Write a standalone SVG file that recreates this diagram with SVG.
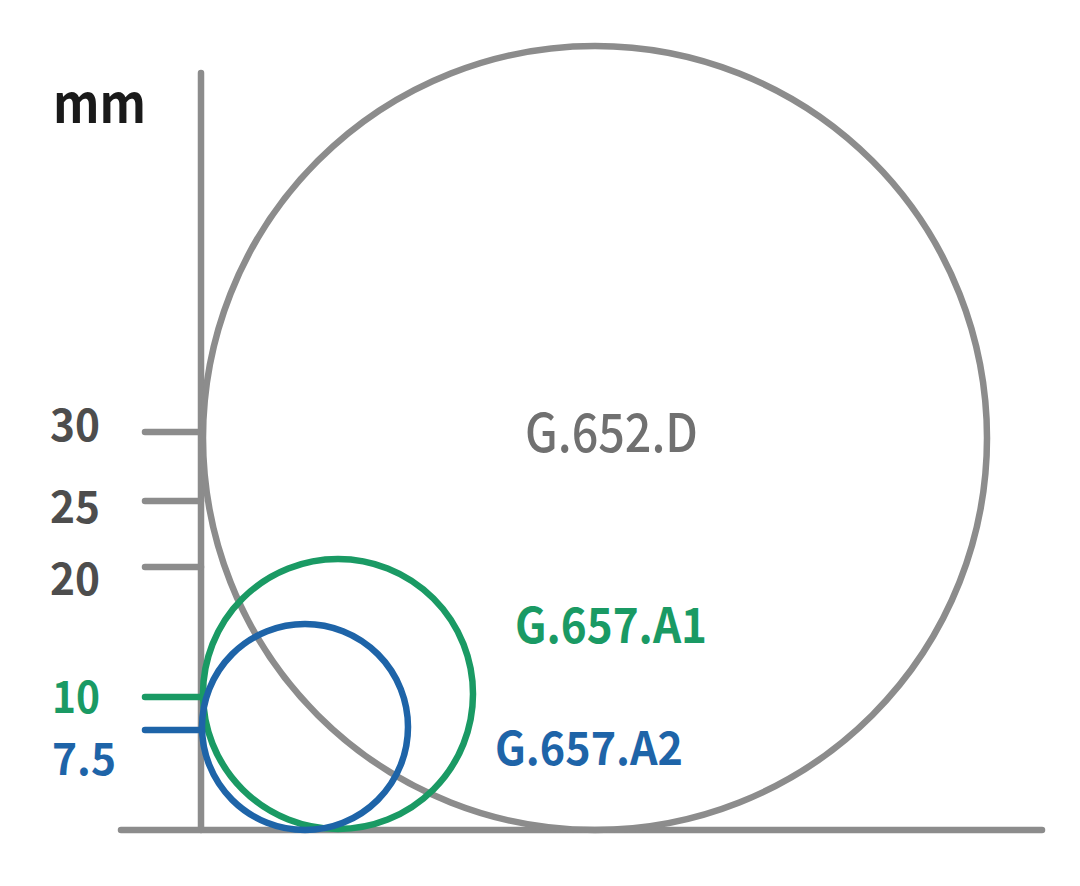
<svg xmlns="http://www.w3.org/2000/svg" width="1080" height="886" viewBox="0 0 1080 886">
<style>
.ax{stroke:#8c8c8c;stroke-width:6.5;stroke-linecap:round;fill:none}
.c{fill:none;stroke-width:6.5}
.num{font-family:"Noto Sans CJK SC","Noto Sans","Liberation Sans",sans-serif;font-weight:bold;font-size:44px}
.lbl{font-family:"Noto Sans CJK SC","Noto Sans","Liberation Sans",sans-serif;font-size:48px}
</style>
<rect width="1080" height="886" fill="#ffffff"/>
<g id="axes">
<line class="ax" x1="201" y1="73" x2="201" y2="830"/>
<line class="ax" x1="121" y1="830" x2="1042" y2="830"/>
<line class="ax" x1="145" y1="432" x2="201" y2="432"/>
<line class="ax" x1="145" y1="501" x2="201" y2="501"/>
<line class="ax" x1="145" y1="567" x2="201" y2="567"/>
<line class="ax" x1="145" y1="697" x2="201" y2="697" style="stroke:#1a9a64"/>
<line class="ax" x1="145" y1="730" x2="201" y2="730" style="stroke:#1e64a8"/>
</g>
<g id="axis-labels">
<text x="53" y="123" class="num" style="font-size:54px;fill:#1a1a1a" textLength="93" lengthAdjust="spacingAndGlyphs">mm</text>
<text x="50" y="441" class="num" fill="#4d4d4d" textLength="50" lengthAdjust="spacingAndGlyphs">30</text>
<text x="50" y="523" class="num" fill="#4d4d4d" textLength="50" lengthAdjust="spacingAndGlyphs">25</text>
<text x="50" y="595" class="num" fill="#4d4d4d" textLength="50" lengthAdjust="spacingAndGlyphs">20</text>
<text x="52" y="713" class="num" fill="#1a9a64" textLength="48" lengthAdjust="spacingAndGlyphs">10</text>
<text x="52" y="775" class="num" fill="#1e64a8" textLength="64" lengthAdjust="spacingAndGlyphs">7.5</text>
</g>
<g id="g652d">
<circle class="c" cx="595" cy="438" r="392" stroke="#8c8c8c"/>
<text x="525" y="452" class="lbl" style="font-size:53px;font-weight:500;fill:#707070" textLength="173" lengthAdjust="spacingAndGlyphs">G.652.D</text>
</g>
<g id="g657a1">
<circle class="c" cx="338" cy="694" r="135" stroke="#1a9a64"/>
<text x="515" y="643" class="lbl" style="font-weight:bold;fill:#1a9a64" textLength="192" lengthAdjust="spacingAndGlyphs">G.657.A1</text>
</g>
<g id="g657a2">
<circle class="c" cx="305" cy="727" r="103" stroke="#1e64a8"/>
<text x="495" y="765" class="lbl" style="font-size:46px;font-weight:bold;fill:#1e64a8" textLength="188" lengthAdjust="spacingAndGlyphs">G.657.A2</text>
</g>
</svg>
